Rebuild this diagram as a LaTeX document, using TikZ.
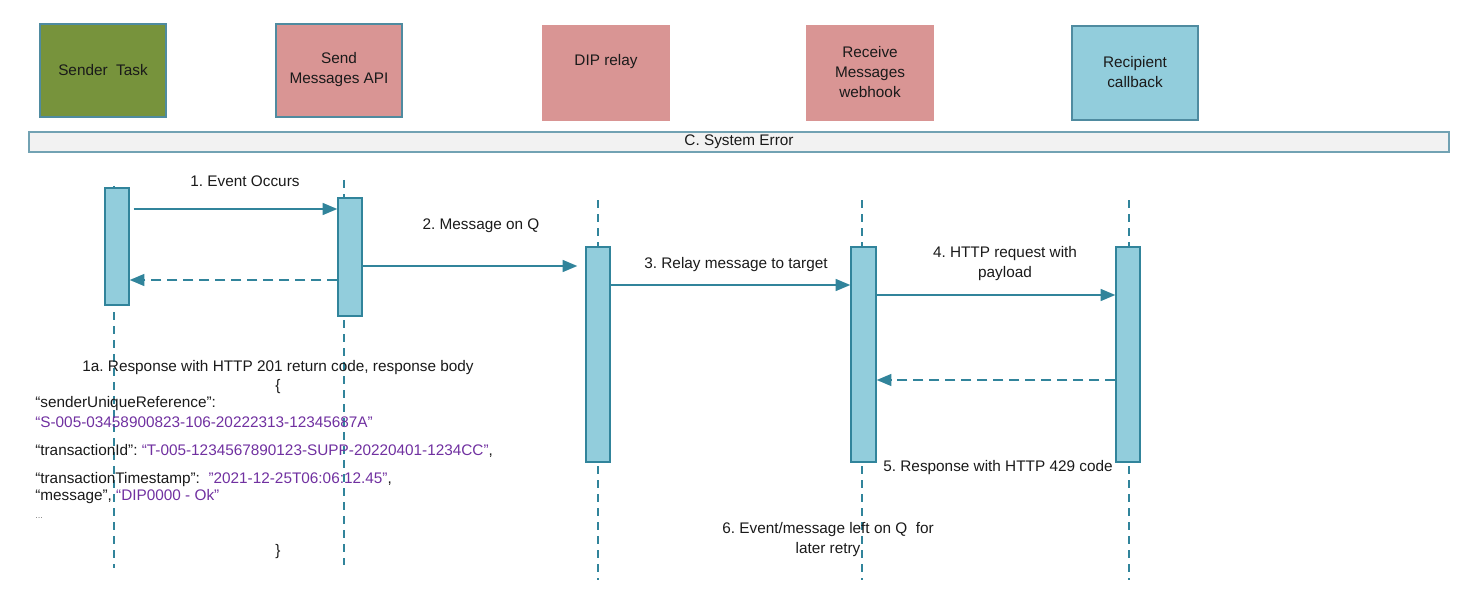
\documentclass[tikz,border=0pt]{standalone}
\usepackage{fontspec}
\setmainfont{Liberation Sans}
\usetikzlibrary{fit,arrows.meta}
\frenchspacing
\definecolor{olive}{HTML}{77933C}
\definecolor{pinkbox}{HTML}{D99594}
\definecolor{bluebox}{HTML}{92CDDC}
\definecolor{edge}{HTML}{4F8BA0}
\definecolor{arrowc}{HTML}{31849B}
\definecolor{barfill}{HTML}{F2F2F2}
\definecolor{purp}{HTML}{7030A0}
\definecolor{txt}{HTML}{1A1A1A}
\tikzset{
  head/.style={draw=edge, line width=1.1pt, inner sep=0pt},
  act/.style={draw=arrowc, fill=bluebox, line width=1.1pt, inner sep=0pt},
  life/.style={draw=arrowc, line width=0.9pt, dash pattern=on 6pt off 4.5pt},
  msg/.style={draw=arrowc, line width=1.1pt, -{Triangle[length=11pt,width=9pt]}},
  ret/.style={msg, dash pattern=on 7.5pt off 4.5pt},
  lbl/.style={font=\fontsize{11.5}{15}\selectfont\frenchspacing, text=txt, inner sep=0pt, align=center},
  code/.style={font=\fontsize{11.5}{15}\selectfont\frenchspacing, text=txt, inner sep=0pt, anchor=west},
}
\begin{document}
\begin{tikzpicture}[x=0.75pt,y=-0.75pt]
\useasboundingbox (0,0) rectangle (1470,599);
% header boxes
\node[head, fill=olive, fit={(40,24)(166,117)}] (hs) {};
\node[head, fill=pinkbox, fit={(276,24)(402,117)}] (ha) {};
\node[head, draw=pinkbox, fill=pinkbox, fit={(543,26)(669,120)}] (hd) {};
\node[head, draw=pinkbox, fill=pinkbox, fit={(807,26)(933,120)}] (hw) {};
\node[head, fill=bluebox, fit={(1072,26)(1198,120)}] (hr) {};
\node[lbl] at (103,70) {Sender\ \ Task};
\node[lbl] at (339,70) {Send\\Messages API};
\node[lbl] at (606,62) {DIP relay};
\node[lbl] at (870,72) {Receive\\Messages\\webhook};
\node[lbl] at (1135,72) {Recipient\\callback};
% system error bar
\node[draw=edge!80, fill=barfill, line width=1pt, inner sep=0pt, fit={(29,132)(1449,152)}] (bar) {};
\node[lbl] at (bar.center) {C. System Error};
% lifelines
\coordinate (l1t) at (114,186); \coordinate (l1b) at (114,568);
\coordinate (l2t) at (344,180); \coordinate (l2b) at (344,565);
\coordinate (l3t) at (598,200); \coordinate (l3b) at (598,580);
\coordinate (l4t) at (862,200); \coordinate (l4b) at (862,580);
\coordinate (l5t) at (1129,200); \coordinate (l5b) at (1129,580);
\draw[life] (l1t) -- (l1b);
\draw[life] (l2t) -- (l2b);
\draw[life] (l3t) -- (l3b);
\draw[life] (l4t) -- (l4b);
\draw[life] (l5t) -- (l5b);
% activations
\node[act, fit={(105,188)(129,305)}] (a1) {};
\node[act, fit={(338,198)(362,316)}] (a2) {};
\node[act, fit={(586,247)(610,462)}] (a3) {};
\node[act, fit={(851,247)(876,462)}] (a4) {};
\node[act, fit={(1116,247)(1140,462)}] (a5) {};
% messages
\draw[msg] ([xshift=3pt]a1.east |- 0,209) -- (a2.west |- 0,209);
\node[lbl] at (245,181) {1. Event Occurs};
\draw[ret] (a2.west |- 0,280) -- (a1.east |- 0,280);
\draw[msg] (a2.east |- 0,266) -- ([xshift=-6pt]a3.west |- 0,266);
\node[lbl] at (481,226) {2. Message on Q};
\draw[msg] (a3.east |- 0,285) -- (a4.west |- 0,285);
\node[lbl] at (736,265) {3. Relay message to target};
\draw[msg] (a4.east |- 0,295) -- (a5.west |- 0,295);
\node[lbl] at (1005,264) {4. HTTP request with\\payload};
\draw[ret] (a5.west |- 0,380) -- (a4.east |- 0,380);
\node[lbl] at (998,468) {5. Response with HTTP 429 code};
\node[lbl] at (828,540) {6. Event/message left on Q\ \ for\\later retry};
% response body
\node[lbl] at (278,368) {1a. Response with HTTP 201 return code, response body};
\node[lbl] at (278,387) {\{};
\node[code] at (35,404) {“senderUniqueReference”:};
\node[code, text=purp] at (35,422) {“S-005-03458900823-106-20222313-12345687A”};
\node[code] at (35,451) {“transactionId”: \textcolor{purp}{“T-005-1234567890123-SUPP-20220401-1234CC”},};
\node[code] at (35,480) {“transactionTimestamp”:\ \ \textcolor{purp}{”2021-12-25T06:06:12.45”},};
\node[code] at (35,497) {“message”, \textcolor{purp}{“DIP0000 - Ok”}};
\node[code, text=gray, font=\fontsize{7}{9}\selectfont] at (35,518) {...};
\node[lbl] at (278,552) {\}};
\end{tikzpicture}
\end{document}
